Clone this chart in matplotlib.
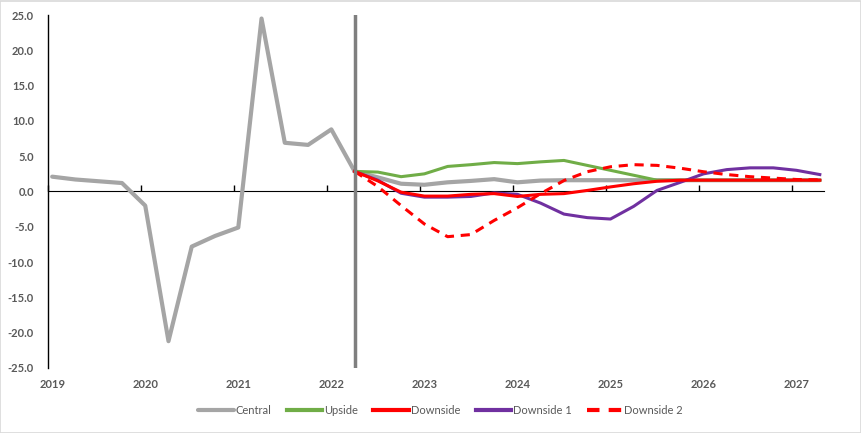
import matplotlib
matplotlib.use("Agg")
import matplotlib.pyplot as plt
from matplotlib.patches import Rectangle
import numpy as np

plt.rcParams['font.family'] = ['Lato', 'DejaVu Sans']

# Quarters 2019Q1 .. 2027Q2
quarters = [f"{y}Q{q}" for y in range(2019, 2028) for q in range(1, 5)][:34]
years = list(range(2019, 2028))

central = [2.1, 1.7, 1.45, 1.2, -2.0, -21.2, -7.8, -6.3, -5.1, 24.5, 6.9, 6.6, 8.8, 2.85,
           2.0, 1.1, 0.95, 1.3, 1.5, 1.75, 1.3, 1.55, 1.6, 1.6, 1.6, 1.6, 1.6, 1.6,
           1.6, 1.6, 1.6, 1.6, 1.6, 1.6]
# Scenarios start at 2022Q2 (index 13)
upside = [2.85, 2.75, 2.1, 2.5, 3.55, 3.8, 4.1, 3.95, 4.2, 4.4, 3.7, 3.0, 2.3, 1.6,
          1.6, 1.6, 1.6, 1.6, 1.6, 1.6, 1.6]
downside = [2.85, 1.5, -0.1, -0.65, -0.65, -0.4, -0.3, -0.7, -0.4, -0.3, 0.15, 0.65, 1.1, 1.45,
            1.6, 1.6, 1.6, 1.6, 1.6, 1.6, 1.6]
downside1 = [2.85, 1.6, -0.25, -0.8, -0.8, -0.7, -0.2, -0.4, -1.65, -3.2, -3.7, -3.9, -2.1, 0.15,
             1.3, 2.5, 3.1, 3.35, 3.35, 3.0, 2.4]
downside2 = [2.85, 0.7, -2.0, -4.6, -6.4, -6.1, -4.1, -2.3, -0.3, 1.55, 2.8, 3.5, 3.8, 3.7,
             3.3, 2.8, 2.4, 2.1, 1.9, 1.7, 1.65]
scenario_start = "2022Q2"

def qpos(label):
    y, q = int(label[:4]), int(label[5])
    return y + 0.045 + 0.25 * (q - 1)

x_all = np.array([qpos(q) for q in quarters])
s0 = quarters.index(scenario_start)
x_sc = x_all[s0:s0 + len(upside)]

fig = plt.figure(figsize=(8.62, 4.33), dpi=100)
ax = fig.add_axes([48/862, 1 - 368/433, (824 - 48)/862, (368 - 15)/433])

h_c, = ax.plot(x_all, central, color='#A5A5A5', lw=3.0, label='Central', solid_capstyle='round', zorder=3)
h_u, = ax.plot(x_sc, upside, color='#70AD47', lw=2.2, label='Upside', zorder=4)
h_d1, = ax.plot(x_sc, downside1, color='#7030A0', lw=2.2, label='Downside 1', zorder=5)
h_d, = ax.plot(x_sc, downside, color='#FF0000', lw=2.2, label='Downside', zorder=6)
h_d2, = ax.plot(x_sc, downside2, color='#FF0000', lw=2.2, ls=(0, (3, 2.2)), label='Downside 2', zorder=7)

ax.axvline(qpos(scenario_start), color='#7F7F7F', lw=2.5, zorder=8)

ax.set_xlim(2019.0, 2027.34)
ax.set_ylim(-25, 25)
ax.set_yticks(np.arange(-25, 26, 5))
ax.set_yticklabels([f"{v:.1f}" for v in np.arange(-25, 26, 5)])
ax.tick_params(axis='y', length=0, pad=10, labelsize=8, labelcolor='#595959')
for lab in ax.get_yticklabels():
    lab.set_fontweight('bold')

ax.set_xticks([y + 0.045 for y in years])
ax.set_xticklabels([str(y) for y in years])
ax.tick_params(axis='x', length=0, pad=8, labelsize=8, labelcolor='#595959')
for lab in ax.get_xticklabels():
    lab.set_fontweight('bold')

for s in ['top', 'right', 'bottom']:
    ax.spines[s].set_visible(False)
ax.spines['left'].set_color('black')
ax.spines['left'].set_linewidth(1.0)

# zero axis with tick marks
sec = ax.secondary_xaxis(0.5)
sec.set_xticks(years)
sec.set_xticklabels([])
sec.tick_params(axis='x', direction='out', length=4, width=1, color='black')
sec.spines['bottom'].set_color('black')
sec.spines['bottom'].set_linewidth(1.0)

handles = [h_c, h_u, h_d, h_d1, h_d2]
leg = fig.legend(handles=handles, labels=[h.get_label() for h in handles],
                 loc='center', bbox_to_anchor=(0.511, 1 - 410/433), ncol=5, frameon=False,
                 fontsize=8, handlelength=3.2, handletextpad=0.15, columnspacing=1.4,
                 labelcolor='#595959')
for line in leg.get_lines():
    line.set_linewidth(3.0)

fig.patches.append(Rectangle((0.5/862, 0.5/433), 1 - 1.5/862, 1 - 1.5/433, transform=fig.transFigure,
                             fill=False, edgecolor='#D9D9D9', lw=1.2))

fig.savefig('out.png', dpi=100)
